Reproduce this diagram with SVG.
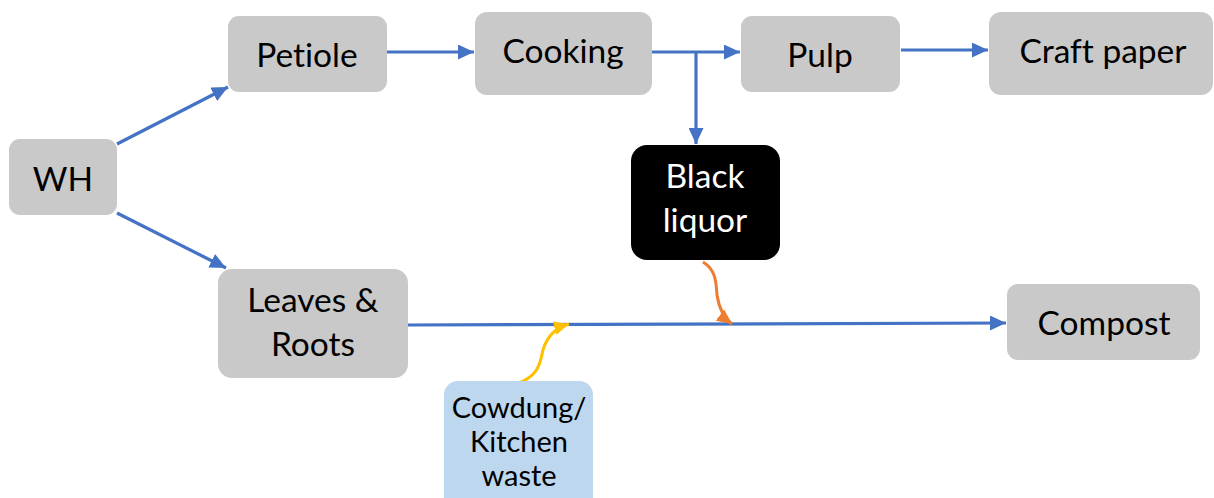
<svg xmlns="http://www.w3.org/2000/svg" width="1214" height="498" viewBox="0 0 1214 498">
<style>
.box{fill:#C9C9C9}
.t{font-family:Lato,"Open Sans","Liberation Sans",sans-serif;font-size:33.5px;fill:#000;text-anchor:middle;font-variant-ligatures:none;font-feature-settings:"liga" 0}
.w{fill:#fff}
.s{font-size:29px}
.c{fill:none;stroke:#4472C4;stroke-width:3.2}
</style>
<defs>
<marker id="ab" markerUnits="userSpaceOnUse" markerWidth="17" markerHeight="15" refX="16" refY="7.5" orient="auto"><path d="M0,0 L16,7.5 L0,15 z" fill="#4472C4"/></marker>
<marker id="ao" markerUnits="userSpaceOnUse" markerWidth="16" markerHeight="14" refX="15" refY="7" orient="auto"><path d="M0,0 L15,7 L0,14 z" fill="#ED7D31"/></marker>
<marker id="ay" markerUnits="userSpaceOnUse" markerWidth="16" markerHeight="14" refX="15" refY="7" orient="auto"><path d="M0,0 L15,7 L0,14 z" fill="#FFC000"/></marker>
</defs>
<rect width="1214" height="498" fill="#fff"/>
<g id="connectors">
<path class="c" d="M117,144 L228,87" marker-end="url(#ab)"/>
<path class="c" d="M117,213 L226,268" marker-end="url(#ab)"/>
<path class="c" d="M387,52 L474,52" marker-end="url(#ab)"/>
<path class="c" d="M652,52 L740,52" marker-end="url(#ab)"/>
<path class="c" d="M696,52 L696,144" marker-end="url(#ab)"/>
<path class="c" d="M901,50 L988,50" marker-end="url(#ab)"/>
<path class="c" d="M408,325 L1006,323" marker-end="url(#ab)"/>
<path d="M703,262 C716,270 716,282 717,295 C719,308 724,318 732,324" fill="none" stroke="#ED7D31" stroke-width="3" marker-end="url(#ao)"/>
<path d="M516,384 C540,376 540,362 543,350 C547,336 555,328 569,324" fill="none" stroke="#FFC000" stroke-width="3" marker-end="url(#ay)"/>
</g>
<g id="wh"><rect class="box" x="9" y="139" width="108" height="76" rx="11"/><text class="t" x="63" y="191">WH</text></g>
<g id="petiole"><rect class="box" x="228" y="16" width="159" height="76" rx="11"/><text class="t" x="307" y="67">Petiole</text></g>
<g id="cooking"><rect class="box" x="475" y="12" width="177" height="83" rx="12"/><text class="t" x="563" y="63">Cooking</text></g>
<g id="pulp"><rect class="box" x="741" y="16" width="159" height="76" rx="11"/><text class="t" x="820" y="67">Pulp</text></g>
<g id="craft"><rect class="box" x="989" y="12" width="224" height="83" rx="12"/><text class="t" x="1103" y="63">Craft paper</text></g>
<g id="black-liquor"><rect x="631" y="145" width="149" height="115" rx="16" fill="#000"/><text class="t w" x="705" y="188">Black</text><text class="t w" x="705" y="232">liquor</text></g>
<g id="leaves"><rect class="box" x="218" y="269" width="190" height="109" rx="14"/><text class="t" x="313" y="312">Leaves &amp;</text><text class="t" x="313" y="356">Roots</text></g>
<g id="cowdung"><rect x="444" y="381" width="149" height="130" rx="14" fill="#BDD7EE"/><text class="t s" x="519" y="418">Cowdung/</text><text class="t s" x="519" y="452">Kitchen</text><text class="t s" x="519" y="486">waste</text></g>
<g id="compost"><rect class="box" x="1007" y="284" width="193" height="76" rx="11"/><text class="t" x="1104" y="335">Compost</text></g>
</svg>
